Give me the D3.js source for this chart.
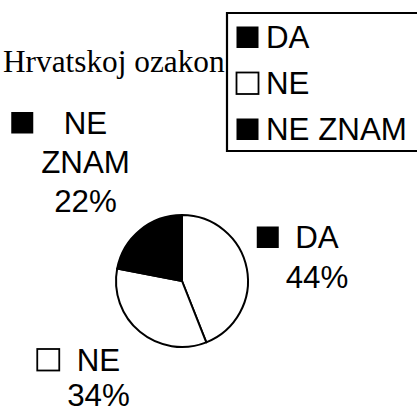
<!DOCTYPE html>
<html>
<head>
<meta charset="utf-8">
<script src="https://cdn.jsdelivr.net/npm/d3@7"></script>
<style>
  html, body { margin: 0; padding: 0; background: #fff; overflow: hidden; }
  svg { display: block; }
</style>
</head>
<body>
<svg id="chart" width="417" height="412"></svg>
<script>
// ---- data ----
const categories = ["DA", "NE", "NE ZNAM"];
const values = [44, 34, 22];
const sliceFills = ["#ffffff", "#ffffff", "#000000"];
const legendFills = ["#000000", "#ffffff", "#000000"];
const titleText = "Hrvatskoj ozakon";

// ---- layout (not data) ----
const W = 417, H = 412;
const cx = 182, cy = 281, R = 66;
const labelFont = 31.3;
// label anchors: center x of the text block, baseline of first line, line gap, square gap
const labelLayout = [
  { x: 317, y: 248, lh: 39.5, gap: 16.5 },
  { x: 98.5, y: 370.5, lh: 35, gap: 17.5 },
  { x: 85.5, y: 133.5, lh: 39, gap: 30.5 }
];

const svg = d3.select("#chart");

// title (partially hidden behind legend)
svg.append("text")
  .attr("x", 3).attr("y", 72)
  .attr("font-family", "'Liberation Serif', 'Times New Roman', serif")
  .attr("font-size", 31.3)
  .attr("fill", "#000")
  .text(titleText);

// pie
const pie = d3.pie().sort(null).value(d => d)(values);
const arc = d3.arc().innerRadius(0).outerRadius(R);
const g = svg.append("g").attr("transform", `translate(${cx},${cy})`);
g.selectAll("path").data(pie).join("path")
  .attr("d", arc)
  .attr("fill", (d, i) => sliceFills[i])
  .attr("stroke", "#000")
  .attr("stroke-width", 2)
  .attr("stroke-linejoin", "round");

// pie labels
const total = d3.sum(values);
pie.forEach((d, i) => {
  const L = labelLayout[i];
  const name = categories[i];
  const nameLines = name === "NE ZNAM" ? ["NE", "ZNAM"] : [name];
  const lines = nameLines.concat([Math.round(values[i] / total * 100) + "%"]);
  const lg = svg.append("g");
  const texts = lg.selectAll("text").data(lines).join("text")
    .attr("x", L.x)
    .attr("y", (t, k) => L.y + k * L.lh)
    .attr("text-anchor", "middle")
    .attr("font-family", "'Liberation Sans', Arial, sans-serif")
    .attr("font-size", labelFont)
    .attr("fill", "#000")
    .text(t => t);
  const firstW = texts.node().getComputedTextLength();
  const startX = L.x - firstW / 2;
  lg.append("rect")
    .attr("x", startX - L.gap - 22)
    .attr("y", L.y - 21.5)
    .attr("width", 22).attr("height", 21.5)
    .attr("fill", legendFills[i])
    .attr("stroke", "#000")
    .attr("stroke-width", legendFills[i] === "#000000" ? 0 : 1.8);
});

// legend box (its right edge runs past the picture, so no right side is drawn)
const legX = 227, legY = 13, legH = 138;
svg.append("rect")
  .attr("x", legX).attr("y", legY)
  .attr("width", W - legX + 10).attr("height", legH)
  .attr("fill", "#fff").attr("stroke", "none");
svg.append("path")
  .attr("d", `M${W + 10},${legY}H${legX}V${legY + legH}H${W + 10}`)
  .attr("fill", "none").attr("stroke", "#000").attr("stroke-width", 2.2);

const leg = svg.append("g");
categories.forEach((c, i) => {
  const base = 48 + i * 46;
  leg.append("rect")
    .attr("x", 236.5).attr("y", base - 21.5)
    .attr("width", 22).attr("height", 21.5)
    .attr("fill", legendFills[i])
    .attr("stroke", "#000")
    .attr("stroke-width", legendFills[i] === "#000000" ? 0 : 1.8);
  leg.append("text")
    .attr("x", 266).attr("y", base)
    .attr("font-family", "'Liberation Sans', Arial, sans-serif")
    .attr("font-size", labelFont)
    .attr("fill", "#000")
    .text(c);
});
</script>
</body>
</html>
